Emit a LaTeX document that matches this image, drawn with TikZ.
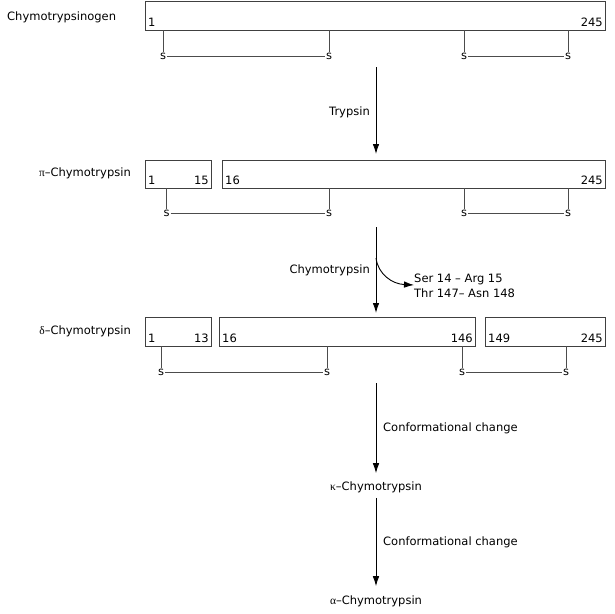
\documentclass[tikz,border=0pt]{standalone}
\usepackage{fontspec}
\setmainfont{DejaVu Sans}
\newfontfamily\grk{Liberation Serif}
\usetikzlibrary{arrows.meta}
\begin{document}
\begin{tikzpicture}[x=1pt,y=-1pt,
  every node/.style={font=\fontsize{11.5}{13}\selectfont},
  seg/.style={draw=black!75, line width=0.9pt, inner sep=0pt, outer sep=0pt, rectangle},
  num/.style={inner sep=0pt},
  sn/.style={inner sep=1pt},
  link/.style={draw=black!70, line width=0.9pt},
  arr/.style={draw=black, line width=0.9pt, -{Latex[length=10pt,width=6.5pt]}},
  lbl/.style={inner sep=0pt}
]
\useasboundingbox (0,0) rectangle (614,614);

% ---------- Row 1: Chymotrypsinogen
\node[lbl, anchor=west] (l1) at (7,17) {Chymotrypsinogen};
\node[seg, minimum width=460pt, minimum height=29pt] (b1) at (375,15.5) {};
\node[num, anchor=base west] (n11) at ([xshift=3pt,yshift=4pt]b1.south west) {1};
\node[num, anchor=base east] (n12) at ([xshift=-2pt,yshift=4pt]b1.south east) {245};
\node[sn] (s11) at (163,56) {s};
\node[sn] (s12) at (329,56) {s};
\node[sn] (s13) at (464,56) {s};
\node[sn] (s14) at (568,56) {s};
\foreach \s in {s11,s12,s13,s14}{\draw[link] (\s |- b1.south) -- (\s.north);}
\draw[link] (s11) -- (s12);
\draw[link] (s13) -- (s14);

% ---------- Arrow 1
\coordinate (a1s) at (376,67);
\coordinate (a1e) at (376,154);
\draw[arr] (a1s) -- (a1e);
\node[lbl, anchor=east] (t1) at (370,112) {Trypsin};

% ---------- Row 2: pi-Chymotrypsin
\node[lbl, anchor=east] (l2) at (131,173) {{\grk π}–Chymotrypsin};
\node[seg, minimum width=66pt, minimum height=28pt] (b2a) at (178,174) {};
\node[seg, minimum width=383pt, minimum height=28pt] (b2b) at (413.5,174) {};
\node[num, anchor=base west] (n21) at ([xshift=3pt,yshift=4pt]b2a.south west) {1};
\node[num, anchor=base east] (n22) at ([xshift=-2pt,yshift=4pt]b2a.south east) {15};
\node[num, anchor=base west] (n23) at ([xshift=3pt,yshift=4pt]b2b.south west) {16};
\node[num, anchor=base east] (n24) at ([xshift=-2pt,yshift=4pt]b2b.south east) {245};
\node[sn] (s21) at (166.5,213) {s};
\node[sn] (s22) at (329,213) {s};
\node[sn] (s23) at (464,213) {s};
\node[sn] (s24) at (568,213) {s};
\draw[link] (s21 |- b2a.south) -- (s21.north);
\foreach \s in {s22,s23,s24}{\draw[link] (\s |- b2b.south) -- (\s.north);}
\draw[link] (s21) -- (s22);
\draw[link] (s23) -- (s24);

% ---------- Arrow 2
\coordinate (a2s) at (376,227);
\coordinate (a2e) at (376,313);
\coordinate (a2c) at (376,258);
\draw[arr] (a2s) -- (a2e);
\node[lbl, anchor=east] (t2) at (370,270) {Chymotrypsin};
\node[lbl, anchor=west, align=left, font=\fontsize{11.5}{14.5}\selectfont] (cut) at (414,286) {Ser 14 – Arg 15\\Thr 147– Asn 148};
\draw[arr] (a2c) .. controls (378,274) and (392,284) .. (cut.west |- 0,285);

% ---------- Row 3: delta-Chymotrypsin
\node[lbl, anchor=east] (l3) at (131,331) {{\grk δ}–Chymotrypsin};
\node[seg, minimum width=66pt, minimum height=29pt] (b3a) at (178,331.5) {};
\node[seg, minimum width=256pt, minimum height=29pt] (b3b) at (347,331.5) {};
\node[seg, minimum width=120pt, minimum height=29pt] (b3c) at (545,331.5) {};
\node[num, anchor=base west] (n31) at ([xshift=3pt,yshift=4pt]b3a.south west) {1};
\node[num, anchor=base east] (n32) at ([xshift=-2pt,yshift=4pt]b3a.south east) {13};
\node[num, anchor=base west] (n33) at ([xshift=3pt,yshift=4pt]b3b.south west) {16};
\node[num, anchor=base east] (n34) at ([xshift=-2pt,yshift=4pt]b3b.south east) {146};
\node[num, anchor=base west] (n35) at ([xshift=3pt,yshift=4pt]b3c.south west) {149};
\node[num, anchor=base east] (n36) at ([xshift=-2pt,yshift=4pt]b3c.south east) {245};
\node[sn] (s31) at (161,372) {s};
\node[sn] (s32) at (327,372) {s};
\node[sn] (s33) at (462,372) {s};
\node[sn] (s34) at (566,372) {s};
\draw[link] (s31 |- b3a.south) -- (s31.north);
\draw[link] (s32 |- b3b.south) -- (s32.north);
\draw[link] (s33 |- b3b.south) -- (s33.north);
\draw[link] (s34 |- b3c.south) -- (s34.north);
\draw[link] (s31) -- (s32);
\draw[link] (s33) -- (s34);

% ---------- Arrow 3
\coordinate (a3s) at (376,383);
\node[lbl] (kappa) at (376,487) {{\grk κ}–Chymotrypsin};
\draw[arr] (a3s) -- ([yshift=8pt]kappa.north);
\node[lbl, anchor=west] (t3) at (383,428) {Conformational change};

% ---------- Arrow 4
\node[lbl] (alpha) at (376,601) {{\grk α}–Chymotrypsin};
\draw[arr] ([yshift=-5pt]kappa.south) -- ([yshift=9pt]alpha.north);
\node[lbl, anchor=west] (t4) at (383,542) {Conformational change};
\end{tikzpicture}
\end{document}
